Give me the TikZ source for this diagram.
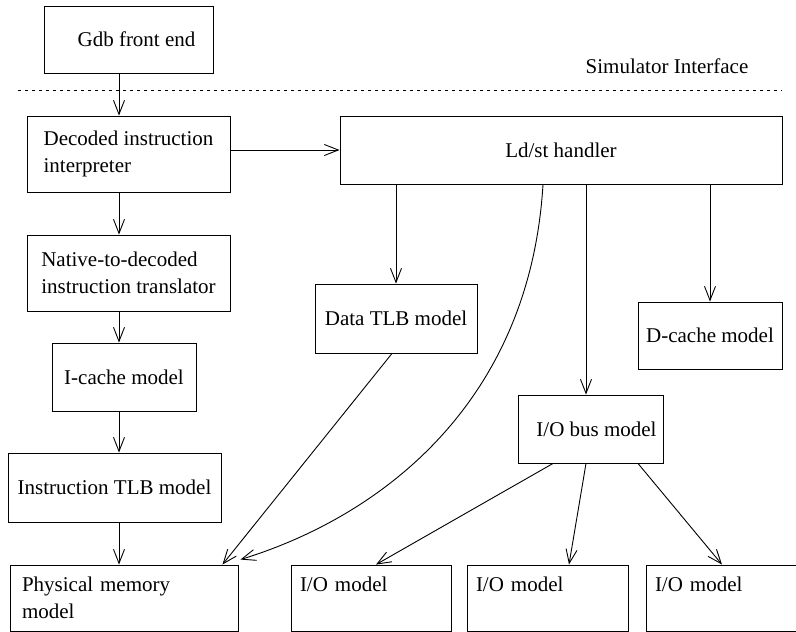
\documentclass[tikz,border=0pt]{standalone}
\usepackage{fontspec}
\setmainfont{Liberation Serif}
\usetikzlibrary{arrows.meta}
\begin{document}
\begin{tikzpicture}[
    x=1pt,y=-1pt,
    font=\fontsize{21}{27}\selectfont,
    block/.style={draw=black,line width=0.9pt,inner sep=0pt,
                  minimum width=#1},
    block/.default=145,
    lblock/.style={block=#1,align=left,minimum height=76},
    flow/.style={line width=0.9pt,-{Straight Barb[length=14pt,width=11pt,line width=0.9pt]}}
  ]
    \useasboundingbox (0,0) rectangle (796,632);

    \node[block=169,minimum height=67] (gdb) at (128.5,39.5) {\hspace*{16pt}Gdb front end};
    \node (simif) at (667,66) {Simulator Interface};
    \coordinate (ifleft) at (18,90);
    \coordinate (ifright) at (782,90);
    \coordinate (spine) at (119,0);

    \node[lblock=203] (dec) at (128.5,154) {Decoded instruction\\interpreter};
    \node[block=442,minimum height=68] (ldst) at (561,150) {Ld/st handler};
    \node[lblock=203] (nat) at (128.5,273) {Native-to-decoded\\instruction translator};
    \node[block=144,minimum height=68] (icache) at (124,377) {I-cache model};
    \node[block=213,minimum height=69] (itlb) at (114.5,487.5) {Instruction TLB model};
    \node[lblock=228,minimum height=66,text width=204] (phys) at (124,598) {Physical memory\\model};

    \node[block=162,minimum height=69] (dtlb) at (396,318.5) {Data TLB model};
    \node[block=144,minimum height=67] (dcache) at (710,335.5) {D-cache model};
    \node[block=145,minimum height=68] (iobus) at (590.5,429) {\hspace*{12pt}I/O bus model};

    \node[lblock=160,minimum height=66,text width=142] (io1) at (371,598) {I/O model\\\mbox{}};
    \node[lblock=161,minimum height=66,text width=143] (io2) at (547.5,598) {I/O model\\\mbox{}};
    \node[lblock=160,minimum height=66,text width=142] (io3) at (726,598) {I/O model\\\mbox{}};

    % interface line
    \draw[line width=0.9pt,dash pattern=on 3pt off 4pt] (ifleft) -- (ifright);

    % instruction side
    \draw[flow] (gdb.south -| spine) -- (dec.north -| spine);
    \draw[flow] (dec.south -| spine) -- (nat.north -| spine);
    \draw[flow] (nat.south -| spine) -- (icache.north -| spine);
    \draw[flow] (icache.south -| spine) -- (itlb.north -| spine);
    \draw[flow] (itlb.south -| spine) -- (phys.north -| spine);
    \draw[flow] (dec.east |- ldst) -- (ldst.west);

    % data side
    \draw[flow] (ldst.south -| dtlb.north) -- (dtlb.north);
    \draw[flow] (ldst.south -| dcache.north) -- (dcache.north);
    \draw[flow] ([xshift=-4.5pt]ldst.south -| iobus.north) -- ([xshift=-4.5pt]iobus.north);
    \draw[flow] ([xshift=-4pt]dtlb.south) -- ([xshift=-16pt]phys.north east);
    \draw[flow] ([xshift=-18pt]ldst.south)
      .. controls (530,400) and (385,515) .. ([xshift=2pt,yshift=5pt]phys.north east);

    % io fan out
    \draw[flow] ([xshift=-37.5pt]iobus.south) -- ([xshift=5pt]io1.north);
    \draw[flow] ([xshift=-4.5pt]iobus.south) -- ([xshift=21.5pt]io2.north);
    \draw[flow] ([xshift=47.5pt]iobus.south) -- ([xshift=-4pt]io3.north);
  \end{tikzpicture}
\end{document}
